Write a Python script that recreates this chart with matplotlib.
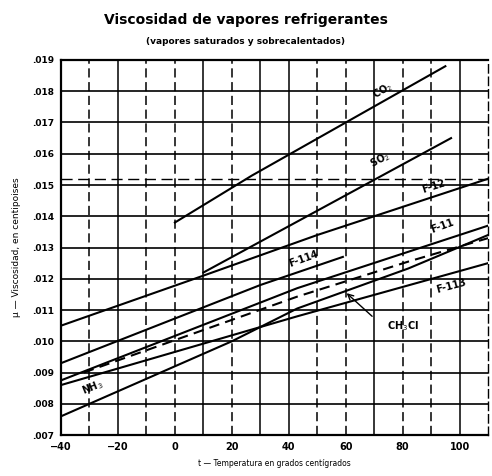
import matplotlib
matplotlib.use('Agg')
import matplotlib.pyplot as plt
import numpy as np

# valores: t en grados C, mu en centipoises
t_co2 = [0, 27, 95]
mu_co2 = [0.0138, 0.0153, 0.0188]
t_so2 = [10, 97]
mu_so2 = [0.0122, 0.0165]
t_f12 = [-40, 10, 50, 110]
mu_f12 = [0.0105, 0.0121, 0.0134, 0.0152]
t_f114 = [-40, 30, 59]
mu_f114 = [0.0093, 0.0118, 0.0127]
t_f11 = [-40, 43, 110]
mu_f11 = [0.00875, 0.0117, 0.0137]
t_ch3cl = [-32, 43, 82, 110]
mu_ch3cl = [0.0090, 0.01143, 0.01255, 0.0133]
t_nh3 = [-40, 20, 43, 82, 110]
mu_nh3 = [0.0076, 0.0100, 0.01105, 0.01233, 0.0134]
t_f113 = [-40, 43, 110]
mu_f113 = [0.0086, 0.0108, 0.0125]

xticks = [-40, -20, 0, 20, 40, 60, 80, 100]
yticks = [0.007, 0.008, 0.009, 0.010, 0.011, 0.012, 0.013,
          0.014, 0.015, 0.016, 0.017, 0.018, 0.019]
ytick_labels = ['.007', '.008', '.009', '.010', '.011', '.012', '.013',
                '.014', '.015', '.016', '.017', '.018', '.019']

fig = plt.figure(figsize=(4.92, 4.76), dpi=100)
fig.patch.set_facecolor('white')
ax = fig.add_axes([0.124, 0.086, 0.868, 0.788])

# cuadricula (algunas lineas entrecortadas como en el original)
dashed_x = [-30, -10, 0, 20, 50, 60, 80, 90]
for x in range(-30, 110, 10):
    ls = (0, (6, 3)) if x in dashed_x else '-'
    ax.axvline(x, color='black', lw=1.1, ls=ls, zorder=1)
for y in np.arange(0.008, 0.0191, 0.001):
    ax.axhline(y, color='black', lw=1.2, zorder=1)
ax.axhline(0.0152, color='black', lw=1.0, ls=(0, (8, 4)), zorder=1)

kw = dict(color='black', lw=1.5, zorder=3)
ax.plot(t_co2, mu_co2, **kw)
ax.plot(t_so2, mu_so2, **kw)
ax.plot(t_f12, mu_f12, **kw)
ax.plot(t_f114, mu_f114, **kw)
ax.plot(t_f11, mu_f11, **kw)
ax.plot(t_ch3cl, mu_ch3cl, color='black', lw=1.5, ls=(0, (5, 3)), zorder=3)
ax.plot(t_nh3, mu_nh3, **kw)
ax.plot(t_f113, mu_f113, **kw)

tk = dict(fontsize=7, fontweight='bold', ha='center', va='center', zorder=4)
ax.text(73, 0.0180, 'CO$_2$', rotation=30, **tk)
ax.text(72, 0.0158, 'SO$_2$', rotation=28, **tk)
ax.text(91, 0.01495, 'F-12', rotation=18, **tk)
ax.text(45, 0.01262, 'F-114', rotation=20, **tk)
ax.text(94, 0.0137, 'F-11', rotation=20, **tk)
ax.text(97, 0.01175, 'F-113', rotation=15, **tk)
ax.text(-29, 0.00852, 'NH$_3$', rotation=22, **tk)
ax.text(80, 0.0105, 'CH$_3$Cl', **tk)
ax.annotate('', xy=(59.6, 0.0116), xytext=(70, 0.01074),
            arrowprops=dict(arrowstyle='->', color='black', lw=1.0), zorder=4)

ax.set_xlim(-40, 110)
ax.set_ylim(0.007, 0.019)
ax.set_xticks(xticks)
ax.set_xticklabels([u'\u221240', u'\u221220', '0', '20', '40', '60', '80', '100'],
                   fontsize=7, fontweight='bold')
ax.set_yticks(yticks)
ax.set_yticklabels(ytick_labels, fontsize=6.5, fontweight='bold')
ax.tick_params(length=0, pad=5)

for s in ['left', 'bottom', 'top']:
    ax.spines[s].set_linewidth(1.6)
ax.spines['right'].set_linestyle((0, (6, 3)))
ax.spines['right'].set_linewidth(1.0)

ax.set_xlabel(u't \u2014 Temperatura en grados centígrados', fontsize=5.5, labelpad=5)
ax.set_ylabel(u'\u03bc \u2014 Viscosidad, en centipoises', fontsize=6.5, labelpad=8)

fig.text(0.5, 0.958, 'Viscosidad de vapores refrigerantes', fontsize=10,
         fontweight='bold', ha='center', va='center')
fig.text(0.5, 0.912, '(vapores saturados y sobrecalentados)', fontsize=6.5,
         fontweight='bold', ha='center', va='center')

plt.savefig('out.png', dpi=100)
plt.close(fig)
